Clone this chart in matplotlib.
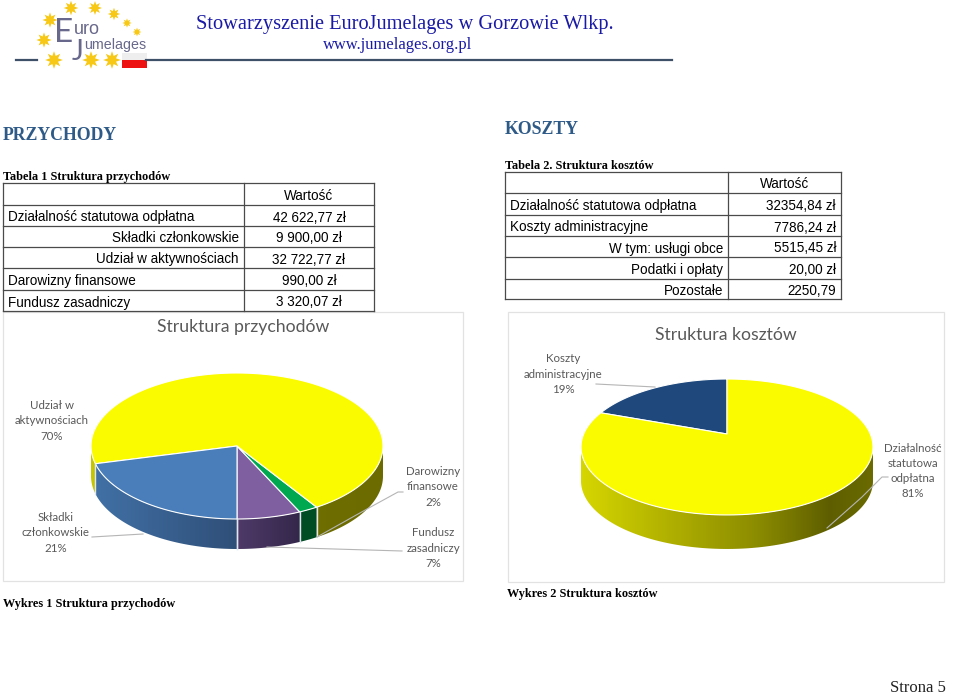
#!/usr/bin/env python3

import numpy as np
import matplotlib
matplotlib.use("Agg")
import matplotlib.pyplot as plt
from matplotlib.colors import LinearSegmentedColormap
from matplotlib.patches import Polygon, Rectangle

# table 1
rev_labels = ["Działalność statutowa odpłatna", "Składki członkowskie", "Udział w aktywnościach",
              "Darowizny finansowe", "Fundusz zasadniczy"]
rev_values = ["42 622,77 zł", "9 900,00 zł", "32 722,77 zł", "990,00 zł", "3 320,07 zł"]
rev_right = [False, True, True, False, False]

# table 2
cost_labels = ["Działalność statutowa odpłatna", "Koszty administracyjne", "W tym: usługi obce",
               "Podatki i opłaty", "Pozostałe"]
cost_values = ["32354,84 zł", "7786,24 zł", "5515,45 zł", "20,00 zł", "2250,79"]
cost_right = [False, False, True, True, True]

# pies, counter-clockwise from the start angle
pie1_names = ["Fundusz", "Darowizny", "Udział", "Składki"]
pie1_values = [3320.07, 990.00, 32722.77, 9900.00]
pie2_names = ["Koszty", "Działalność"]
pie2_values = [7786.24, 32354.84]

SANS = "Liberation Sans"
SERIF = "Liberation Serif"
CHART = "Lato"
GREY = "#595959"

fig = plt.figure(figsize=(9.6, 6.95), dpi=100)
ax = fig.add_axes([0, 0, 1, 1])
ax.axis("off")


def txt(x, y, s, size, family=SANS, color="black", ha="left", weight="normal", spacing=1.12):
    ax.text(x, y, s, fontsize=size, family=family, color=color, ha=ha, va="center",
            weight=weight, linespacing=spacing)


def label(x, y, s):
    txt(x, y, s, 8.3, CHART, GREY, ha="center", spacing=1.45)


def project(theta, cx, cy, rx, ry, k):
    # theta: radians clockwise from 12 o'clock, k gives the perspective
    u = np.sin(theta)
    v = np.cos(theta)
    d = 1 + k * v
    return cx + rx * u / d, cy - ry * v / d


def draw_table(x0, x1, split, ys, labels, values, right, value_ha, value_x, size):
    for y in ys:
        ax.plot([x0, x1], [y, y], color="#4a4a4a", lw=0.9)
    for x in (x0, split, x1):
        ax.plot([x, x], [ys[0], ys[-1]], color="#4a4a4a", lw=0.9)
    head_x = value_x if value_ha == "center" else (split + x1) / 2
    txt(head_x, (ys[0] + ys[1]) / 2 + 2, "Wartość", size, ha="center")
    for i in range(len(labels)):
        y = (ys[i + 1] + ys[i + 2]) / 2 + 2
        if right[i]:
            txt(split - 5, y, labels[i], size, ha="right")
        else:
            txt(x0 + 5, y, labels[i], size)
        txt(value_x, y, values[i], size, ha=value_ha)


def draw_pie(cx, cy, rx, ry, k, depth, start, values, face_colors, side_stops):
    fracs = np.array(values) / sum(values)
    edges = start - np.concatenate([[0], np.cumsum(fracs)]) * 2 * np.pi
    left = cx - rx * 1.02
    right = cx + rx * 1.02
    # the rim shows below the widest points of the top face
    for i in range(len(values)):
        th = np.linspace(edges[i], edges[i + 1], 400)
        idx = np.where(np.cos(th) < -k)[0]
        if len(idx) < 2:
            continue
        # a wedge can reach the rim on both sides, one polygon per run
        for run in np.split(idx, np.where(np.diff(idx) > 1)[0] + 1):
            if len(run) < 2:
                continue
            xs, ys = project(th[run], cx, cy, rx, ry, k)
            poly = Polygon(np.c_[np.r_[xs, xs[::-1]], np.r_[ys, ys[::-1] + depth]],
                           closed=True, facecolor="none", edgecolor="none", transform=ax.transData)
            ax.add_patch(poly)
            cmap = LinearSegmentedColormap.from_list("rim", side_stops[i])
            im = ax.imshow(np.linspace(0, 1, 256)[None, :], cmap=cmap, vmin=0, vmax=1, aspect="auto",
                           extent=(left, right, cy + ry + depth + 30, cy - ry - 30), zorder=2)
            im.set_clip_path(poly)
    # top face
    for i in range(len(values)):
        th = np.linspace(edges[i], edges[i + 1], 200)
        xs, ys = project(th, cx, cy, rx, ry, k)
        ax.fill(np.r_[cx, xs], np.r_[cy, ys], facecolor=face_colors[i],
                edgecolor="white", lw=0.8, zorder=3)
    # seams on the rim
    for e in edges:
        if np.cos(e) < -k - 0.02:
            x, y = project(e, cx, cy, rx, ry, k)
            ax.plot([x, x], [y, y + depth], color="#dfe6ee", lw=1.0, zorder=3)


# ---- header
stars_x = [71, 95, 114, 127, 137, 50, 44, 54, 91, 112]
stars_y = [8, 8, 14, 23, 32, 20, 40, 60, 60, 60]
stars_s = [110, 100, 80, 45, 40, 120, 120, 160, 160, 160]
ax.scatter(stars_x, stars_y, s=stars_s, marker=(8, 1, 0), color="#f7c815", lw=0, zorder=2)
ax.plot([16, 37], [60, 60], color="#3d5068", lw=1.6)
ax.plot([146, 672], [60, 60], color="#3d5068", lw=1.6)
ax.add_patch(Rectangle((122, 53), 25, 7, facecolor="#eeeeee", lw=0))
ax.add_patch(Rectangle((122, 60), 25, 8, facecolor="#ee1111", lw=0))
logo_col = "#68688c"
txt(54, 33, "E", 24, CHART, logo_col)
txt(74, 29, "uro", 13, color=logo_col)
txt(72, 52, "J", 20, CHART, logo_col)
txt(84, 45, "umelages", 10.3, color=logo_col)
txt(196, 24, "Stowarzyszenie EuroJumelages w Gorzowie Wlkp.", 14.7, SERIF, "#1a1aa6")
txt(323, 45, "www.jumelages.org.pl", 11.9, SERIF, "#1a1aa6")

# ---- headings
txt(3, 136, "PRZYCHODY", 12.8, SERIF, "#2e5a88", weight="bold")
txt(505, 130, "KOSZTY", 12.8, SERIF, "#2e5a88", weight="bold")
txt(3, 177, "Tabela 1 Struktura przychodów", 8.8, SERIF, weight="bold")
txt(505, 166, "Tabela 2. Struktura kosztów", 8.8, SERIF, weight="bold")

# ---- tables
draw_table(3, 374, 244, [183, 205, 226, 247, 268, 290, 311], rev_labels, rev_values,
           rev_right, "center", 309, 9.75)
draw_table(505, 841, 728, [172, 193, 215, 236, 257, 279, 299], cost_labels, cost_values,
           cost_right, "right", 836, 9.75)

# ---- chart frames
for x0, x1, y0, y1 in [(2.5, 463, 311.5, 581), (508, 944, 312, 582)]:
    ax.add_patch(Rectangle((x0, y0), x1 - x0, y1 - y0, facecolor="none", edgecolor="#e2e2e2", lw=0.9))

# ---- pie 1
draw_pie(237, 446, 146, 73, 0.0, 30, np.pi, pie1_values,
         ["#7f5fa0", "#00a84f", "#fbfb00", "#4a7ebb"],
         [[(0, "#55406e"), (0.5, "#4f3a68"), (0.72, "#33264a"), (1, "#33264a")],
          [(0, "#004d24"), (1, "#004d24")],
          [(0, "#c9c900"), (0.1, "#b0b000"), (0.7, "#6e6e00"), (1, "#6b6b00")],
          [(0, "#4272a8"), (0.5, "#2f4f78"), (1, "#2f4f78")]])
txt(243, 327, "Struktura przychodów", 12.7, CHART, GREY, ha="center")
label(52, 421, "Udział w\naktywnościach\n70%")
label(56, 533, "Składki\nczłonkowskie\n21%")
label(433, 487, "Darowizny\nfinansowe\n2%")
label(433, 548, "Fundusz\nzasadniczy\n7%")
ax.plot([92, 143], [537, 534], color="#b5b5b5", lw=0.8, zorder=4)
ax.plot([403, 398, 367, 317], [492, 492, 509, 537], color="#b5b5b5", lw=0.8, zorder=4)
ax.plot([402, 267], [551, 547], color="#b5b5b5", lw=0.8, zorder=4)

# ---- pie 2
draw_pie(727, 434, 143.3, 65.5, 0.191, 34, 0.0, pie2_values,
         ["#1f497d", "#fbfb00"],
         [[(0, "#1f497d"), (1, "#1f497d")],
          [(0, "#d6d600"), (0.3, "#b0b000"), (0.6, "#8c8c00"), (0.85, "#5e5e00"), (1, "#6b6b00")]])
txt(726, 335, "Struktura kosztów", 12.7, CHART, GREY, ha="center")
label(563, 374, "Koszty\nadministracyjne\n19%")
label(913, 471, "Działalność\nstatutowa\nodpłatna\n81%")
ax.plot([596, 655], [384, 387], color="#b5b5b5", lw=0.8, zorder=4)
ax.plot([888, 882, 862, 827], [477, 477, 497, 528], color="#b5b5b5", lw=0.8, zorder=4)

# ---- captions
txt(3, 604, "Wykres 1 Struktura przychodów", 8.8, SERIF, weight="bold")
txt(507, 594, "Wykres 2 Struktura kosztów", 8.8, SERIF, weight="bold")
txt(890, 688, "Strona 5", 12, SERIF, "#222222")

ax.set_xlim(0, 960)
ax.set_ylim(695, 0)
fig.savefig("out.png", dpi=100)
